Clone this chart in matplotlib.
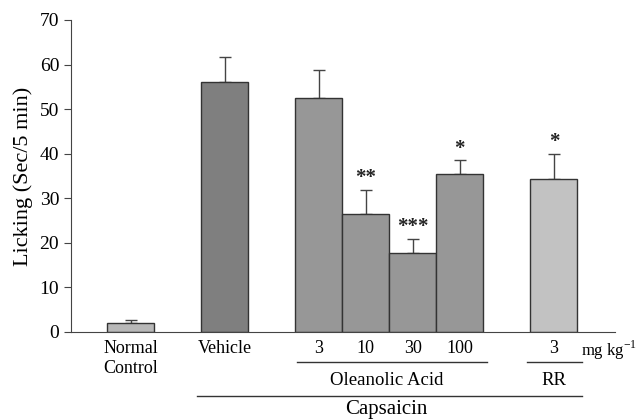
"""Capsaicin-induced licking: oleanolic acid vs ruthenium red (bar chart)."""

import matplotlib
matplotlib.use("Agg")
import matplotlib.pyplot as plt
from matplotlib.transforms import blended_transform_factory

plt.rcParams["font.family"] = ["Liberation Serif", "DejaVu Serif"]

# data
groups = ["Normal\nControl", "Vehicle", "3", "10", "30", "100", "3"]
positions = [1.27, 3.27, 5.27, 6.27, 7.27, 8.27, 10.27]
licking = [2.0, 56.1, 52.5, 26.4, 17.8, 35.4, 34.3]
sem = [0.6, 5.5, 6.3, 5.5, 3.1, 3.1, 5.6]
stars = ["", "", "", "**", "***", "*", "*"]
colors = ["#b8b8b8", "#7f7f7f", "#979797", "#979797", "#979797", "#979797", "#c2c2c2"]

W, H, DPI = 643, 420, 100
fig = plt.figure(figsize=(W / DPI, H / DPI), dpi=DPI)
ax = fig.add_axes([71 / W, 1 - 332 / H, (615 - 71) / W, (332 - 20) / H])

ax.bar(positions, licking, width=1.0, color=colors, edgecolor="#333333",
       linewidth=1.0, zorder=2)
ax.errorbar(positions, licking, yerr=[[0] * len(sem), sem], fmt="none",
            ecolor="#444444", elinewidth=1.0, capsize=4, capthick=1.0, zorder=1)

for x, y, e, s in zip(positions, licking, sem, stars):
    if s:
        ax.text(x, y + e + 0.4, s, ha="center", va="bottom", fontsize=15,
                fontweight="bold", color="#222222")

ax.set_xlim(0, 11.57)
ax.set_ylim(0, 70)
ax.set_yticks(range(0, 71, 10))
ax.tick_params(axis="y", labelsize=14, length=5, direction="out", color="#444444")
ax.set_xticks(positions)
ax.set_xticklabels(groups, fontsize=13)
ax.tick_params(axis="x", length=0, pad=6)
ax.set_ylabel("Licking (Sec/5 min)", fontsize=16, labelpad=5)
for side in ("top", "right"):
    ax.spines[side].set_visible(False)
for side in ("left", "bottom"):
    ax.spines[side].set_color("#444444")

# group brackets under the axis
tr = blended_transform_factory(ax.transData, ax.transAxes)
ax.text(10.85, -0.022, "mg kg$^{\\mathregular{-1}}$", transform=tr, ha="left",
        va="top", fontsize=12)
ax.plot([4.81, 8.85], [-0.096, -0.096], transform=tr, color="#333333",
        lw=1.0, clip_on=False)
ax.plot([9.70, 10.87], [-0.096, -0.096], transform=tr, color="#333333",
        lw=1.0, clip_on=False)
ax.text(6.72, -0.155, "Oleanolic Acid", transform=tr, ha="center", va="center",
        fontsize=13.5)
ax.text(10.28, -0.155, "RR", transform=tr, ha="center", va="center",
        fontsize=13.5)
ax.plot([2.68, 10.87], [-0.205, -0.205], transform=tr, color="#333333",
        lw=1.0, clip_on=False)
ax.text(6.71, -0.263, "Capsaicin", transform=tr, ha="center", va="baseline",
        fontsize=15)

fig.savefig("out.png", dpi=DPI, facecolor="white")
